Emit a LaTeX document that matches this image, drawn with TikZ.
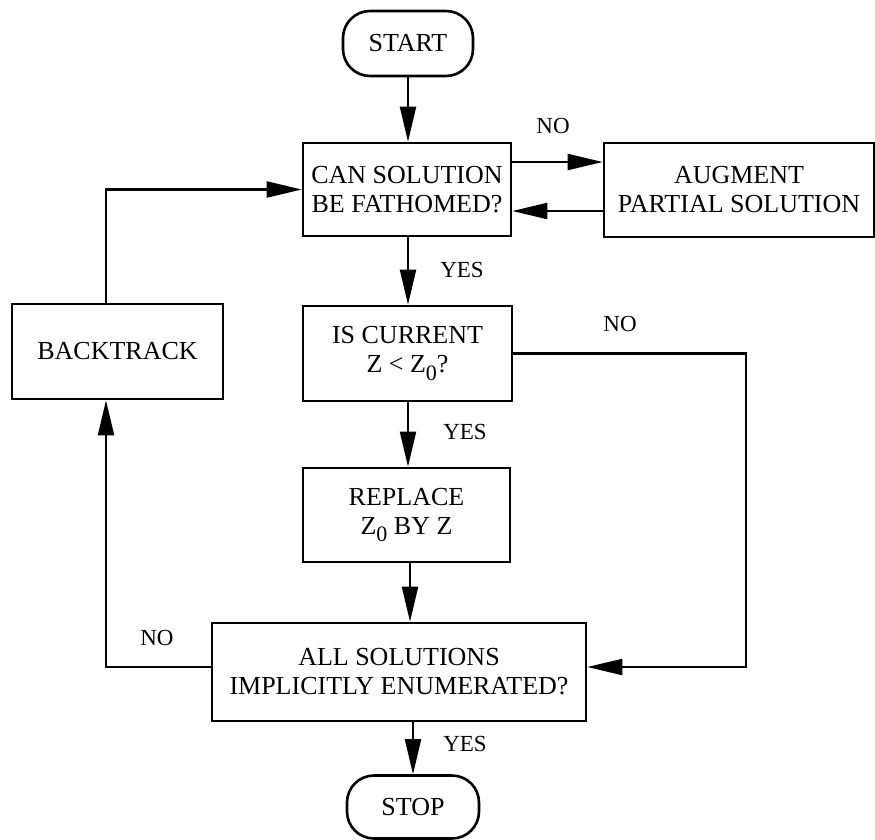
\documentclass[tikz,border=0pt]{standalone}
\usepackage{fontspec}
\setmainfont{Liberation Serif}
\usetikzlibrary{arrows.meta}
\newcommand{\zsub}{\raisebox{-0.3em}{\fontsize{22}{22}\selectfont 0}}
\begin{document}
\begin{tikzpicture}[x=1pt,y=-1pt,
  box/.style={draw, line width=2.6pt, inner sep=0pt, align=center,
    font=\fontsize{26}{29}\selectfont},
  term/.style={box, rounded corners=27pt},
  conn/.style={line width=2.1pt, -{Triangle[length=35pt,width=16pt]}},
  lbl/.style={inner sep=0pt, font=\fontsize{23}{26}\selectfont}]
\useasboundingbox (0,0) rectangle (875,839);
\node[term, minimum width=130pt, minimum height=65pt] (start) at (408,43.5) {START};
\node[box, minimum width=208pt, minimum height=93pt] (can) at (407,189.5) {CAN SOLUTION\\BE FATHOMED?};
\node[box, minimum width=270pt, minimum height=94pt] (aug) at (739,190) {AUGMENT\\PARTIAL SOLUTION};
\node[box, minimum width=211pt, minimum height=95pt] (back) at (117.5,351.5) {BACKTRACK};
\node[box, minimum width=209pt, minimum height=95pt] (cur) at (407.5,353.5) {IS CURRENT\\Z < Z\zsub?};
\node[box, minimum width=207pt, minimum height=94pt] (rep) at (406.5,515) {REPLACE\\Z\zsub{} BY Z};
\node[box, minimum width=374pt, minimum height=98pt] (all) at (399,672) {ALL SOLUTIONS\\IMPLICITLY ENUMERATED?};
\node[term, minimum width=132pt, minimum height=63pt] (stop) at (413,807) {STOP};

\coordinate (ya) at (0,162);
\coordinate (yb) at (0,211);
\coordinate (yc) at (0,667);
\coordinate (xr) at (746,0);
\coordinate (xl) at (106,0);
\coordinate (xa) at (408,0);
\coordinate (xb) at (410,0);

\draw[conn] (start.south -| xa) -- (can.north -| xa);
\draw[conn] (can.east |- ya) -- (aug.west |- ya);
\draw[conn] (aug.west |- yb) -- (can.east |- yb);
\draw[conn] (can.south -| xa) -- (cur.north -| xa);
\draw[conn] (cur.south -| xa) -- (rep.north -| xa);
\draw[conn] (rep.south -| xb) -- (all.north -| xb);
\draw[conn] (all.south -| stop.north) -- (stop.north);
\draw[conn] (cur.east) -| (xr |- yc) -- (all.east |- yc);
\draw[conn] (all.west |- yc) -- (xl |- yc) -- (back.south -| xl);
\draw[conn] (back.north -| xl) |- (can.west);

\node[lbl] (l1) at (553,126) {NO};
\node[lbl] (l2) at (462,270) {YES};
\node[lbl] (l3) at (620,324) {NO};
\node[lbl] (l4) at (465,432) {YES};
\node[lbl] (l5) at (157,638) {NO};
\node[lbl] (l6) at (465,744) {YES};
\end{tikzpicture}
\end{document}
